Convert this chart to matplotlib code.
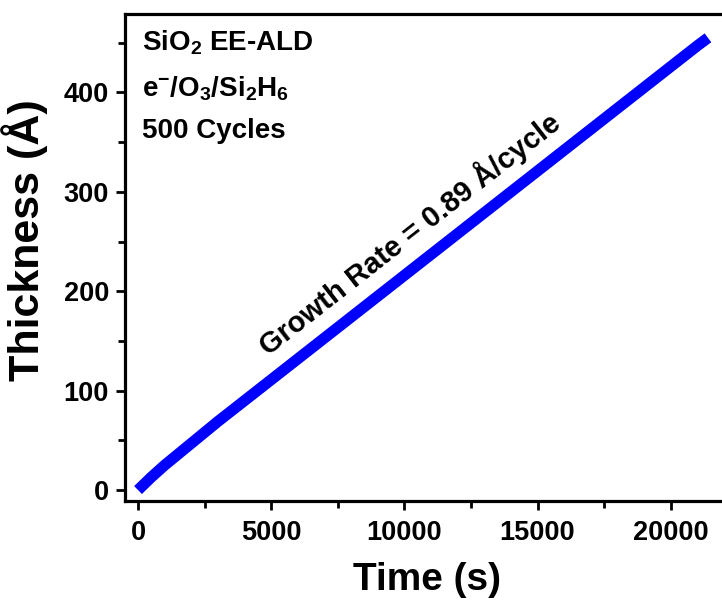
import numpy as np
from matplotlib import pyplot as plt
from matplotlib.ticker import MultipleLocator

plt.rcParams['font.family'] = ['Liberation Sans', 'DejaVu Sans']
plt.rcParams['font.weight'] = 'bold'
plt.rcParams['mathtext.fontset'] = 'custom'
plt.rcParams['mathtext.rm'] = 'Liberation Sans:bold'
plt.rcParams['mathtext.bf'] = 'Liberation Sans:bold'
plt.rcParams['mathtext.default'] = 'bf'

# in-situ thickness
time_s = [0, 500, 1000, 2000, 3000, 4000, 5000, 6000, 7000, 8000, 9000, 10000,
          11000, 12000, 13000, 14000, 15000, 16000, 17000, 18000, 19000, 20000,
          21000, 21400]
thickness = [0, 13, 25, 47, 69, 90, 111, 132, 153, 174, 195, 216,
             237, 258, 279, 300, 321, 342, 363, 384, 405, 426, 447, 455]

labels = [r'SiO$_2$ EE-ALD', r'e$^{-}$/O$_3$/Si$_2$H$_6$', '500 Cycles']
note = 'Growth Rate = 0.89 Å/cycle'

fig = plt.figure(figsize=(7.22, 6.02), dpi=100)
ax = fig.add_axes([0.1731, 0.1678, 0.8296, 0.809])

ax.plot(time_s, thickness, color='#0000ff', lw=8, solid_capstyle='butt')

ax.set_xlim(-490, 22000)
ax.set_ylim(-11, 479)
ax.xaxis.set_major_locator(MultipleLocator(5000))
ax.xaxis.set_minor_locator(MultipleLocator(2500))
ax.yaxis.set_major_locator(MultipleLocator(100))
ax.yaxis.set_minor_locator(MultipleLocator(50))

for s in ax.spines.values():
    s.set_linewidth(2.3)
ax.tick_params(which='major', length=6.5, width=2, labelsize=19.5, direction='out')
ax.tick_params(which='minor', length=5, width=2, direction='out')
ax.tick_params(axis='x', which='major', pad=7)
ax.tick_params(axis='y', which='major', pad=5)

ax.set_xlabel('Time (s)', fontsize=28, fontweight='bold')
ax.set_ylabel('Thickness (Å)', fontsize=31, fontweight='bold')
ax.xaxis.set_label_coords(0.504, -0.126)
ax.yaxis.set_label_coords(-0.128, 0.536)

for y, t in zip([0.926, 0.83, 0.745], labels):
    ax.text(0.028, y, t, transform=ax.transAxes, fontsize=20,
            fontweight='bold', va='baseline', ha='left')

ax.text(10200, 258, note, fontsize=21, fontweight='bold', rotation=38,
        ha='center', va='center', rotation_mode='anchor')

plt.savefig('out.png', dpi=100)
